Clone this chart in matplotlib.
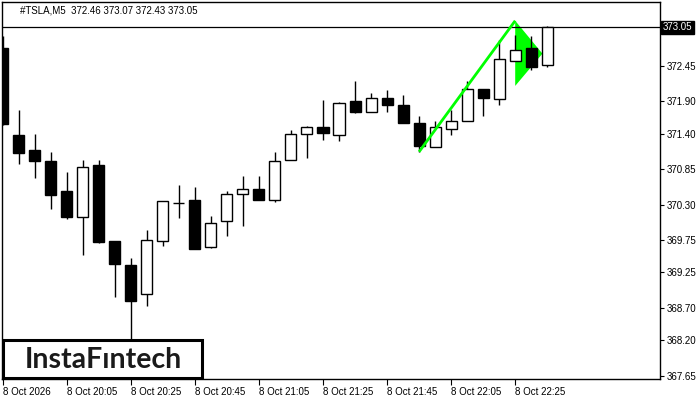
import matplotlib.pyplot as plt
from matplotlib.patches import Polygon, Rectangle
import matplotlib.transforms as mtransforms

# candle data, #TSLA M5
opens = [372.72, 371.38, 371.14, 370.97, 370.52, 370.11, 370.92, 369.73, 369.37, 368.92,
         369.73, 370.33, 370.37, 369.64, 370.04, 370.46, 370.54, 370.37, 371.00, 371.40,
         371.51, 371.38, 371.90, 371.74, 371.95, 371.85, 371.56, 371.20, 371.48, 371.60,
         372.10, 371.94, 372.53, 372.72, 372.46]
highs = [372.91, 371.76, 371.39, 371.11, 370.80, 371.00, 371.00, 369.74, 369.47, 369.91,
         370.36, 370.60, 370.57, 370.12, 370.51, 370.74, 370.74, 371.11, 371.45, 371.52,
         371.92, 371.89, 372.21, 372.03, 372.07, 372.00, 371.67, 371.59, 371.77, 372.21,
         372.10, 372.85, 372.93, 372.91, 373.07]
lows = [371.53, 370.93, 370.72, 370.23, 370.08, 369.52, 369.70, 368.87, 368.12, 368.73,
        369.66, 370.10, 369.61, 369.63, 369.82, 369.97, 370.37, 370.34, 370.99, 371.02,
        371.30, 371.29, 371.72, 371.73, 371.74, 371.56, 371.12, 371.19, 371.38, 371.59,
        371.68, 371.84, 372.53, 372.39, 372.43]
closes = [371.55, 371.10, 370.98, 370.45, 370.11, 370.89, 369.72, 369.38, 368.81, 369.75,
          370.35, 370.32, 369.62, 370.01, 370.46, 370.55, 370.37, 370.98, 371.40, 371.50,
          371.41, 371.87, 371.74, 371.96, 371.85, 371.57, 371.21, 371.51, 371.59, 372.10,
          371.95, 372.56, 372.70, 372.43, 373.05]

x_labels = ["8 Oct 2026", "8 Oct 20:05", "8 Oct 20:25", "8 Oct 20:45", "8 Oct 21:05",
            "8 Oct 21:25", "8 Oct 21:45", "8 Oct 22:05", "8 Oct 22:25"]
y_ticks = [372.45, 371.90, 371.40, 370.85, 370.30, 369.75, 369.25, 368.70, 368.20, 367.65]
last_price = 373.05

# bullish pennant: pole from bar 26 low to bar 32, flag triangle
pole_x = [26, 32]
pole_y = [371.12, 373.15]
flag_x = [32, 32, 33.7]
flag_y = [373.15, 372.14, 372.64]

font = ["Liberation Sans", "DejaVu Sans"]
plt.rcParams["font.family"] = font

fig = plt.figure(figsize=(7, 4), dpi=100)
ax = fig.add_axes([2 / 700, 21 / 400, 658 / 700, 377 / 400])

n = len(opens)
xs = list(range(n))
w = 0.69

# flag fill goes under the candles
ax.add_patch(Polygon(list(zip(flag_x, flag_y)), closed=True, facecolor="#00ff00",
                     edgecolor="none", zorder=1))

for i in xs:
    o, h, l, c = opens[i], highs[i], lows[i], closes[i]
    ax.vlines(i, l, h, color="black", linewidth=1.0, zorder=2)
    lo, hi = min(o, c), max(o, c)
    fc = "white" if c > o else "black"
    ax.bar(i, max(hi - lo, 0.012), bottom=lo, width=w, facecolor=fc,
           edgecolor="black", linewidth=1.0, zorder=3)

ax.plot(pole_x, pole_y, color="#00ff00", linewidth=2.0, zorder=4, solid_capstyle="butt")

ax.axhline(last_price, color="black", linewidth=0.9, zorder=2.5)

ax.set_xlim(-0.04, 41.04)
ax.set_ylim(367.60, 373.44)

ax.set_xticks(range(0, 36, 4))
ax.set_xticklabels(x_labels, ha="left", fontsize=7)
ax.tick_params(axis="x", direction="out", length=4, width=0.8, pad=2)

ax.yaxis.tick_right()
ax.set_yticks(y_ticks)
ax.set_yticklabels([f"{v:.2f}" for v in y_ticks], fontsize=7)
ax.tick_params(axis="y", direction="out", length=3, width=0.8, pad=2)

for s in ax.spines.values():
    s.set_linewidth(1.0)

# price label on the right axis
trans = mtransforms.blended_transform_factory(ax.transAxes, ax.transData)
ax.text(1.004, last_price, f"{last_price:.2f}", transform=trans, fontsize=7,
        color="white", va="center", ha="left",
        bbox=dict(boxstyle="square,pad=0.15", facecolor="black", edgecolor="black"))

ax.text(18 / 658, 0.978, "#TSLA,M5  372.46 373.07 372.43 373.05", transform=ax.transAxes,
        fontsize=7, va="center", ha="left")

# logo box in the lower left corner
ax.add_patch(Rectangle((1 / 658, 0.002), 198.5 / 658, 38 / 377, transform=ax.transAxes,
                       facecolor="white", edgecolor="black", linewidth=2.2, zorder=5))
ax.text(101 / 658, 19 / 377, "InstaFıntech", transform=ax.transAxes, fontsize=20.5,
        color="#1a1a1a", va="center", ha="center", zorder=6, fontweight="bold",
        family=["Lato", "DejaVu Sans"])

fig.savefig("out.png", dpi=100)
